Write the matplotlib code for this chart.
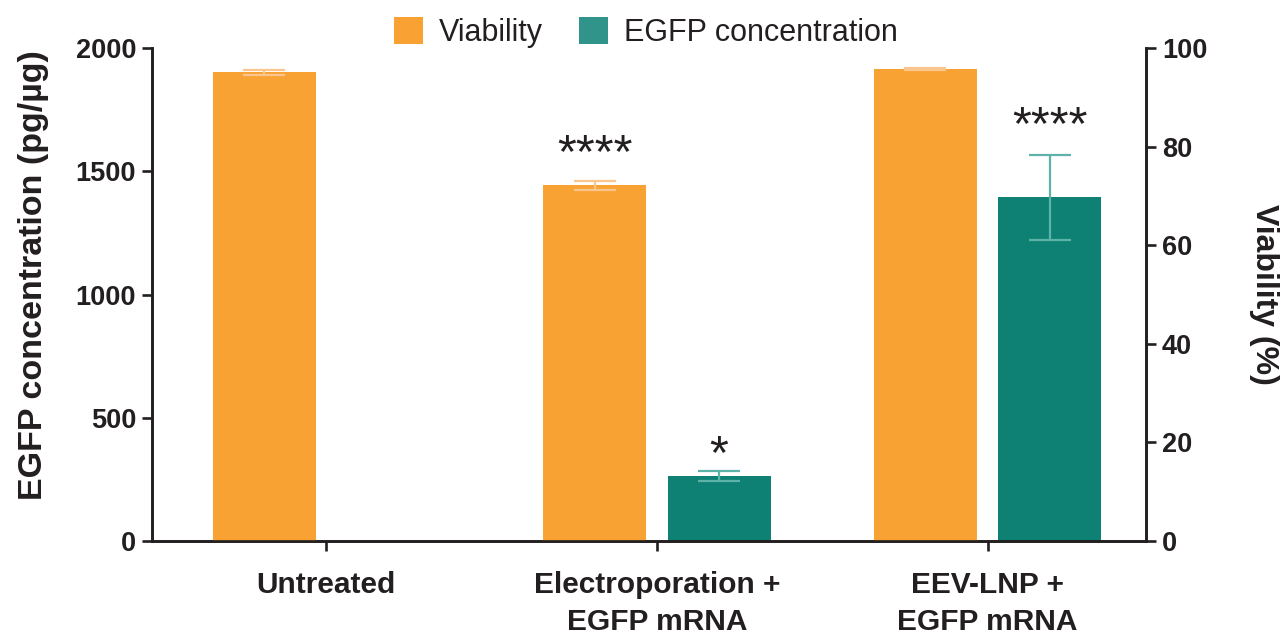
import matplotlib.pyplot as plt
import numpy as np
from matplotlib.patches import Patch

plt.rcParams['font.family'] = ['Liberation Sans', 'DejaVu Sans']

groups = ['Untreated', 'Electroporation +\nEGFP mRNA', 'EEV-LNP +\nEGFP mRNA']
viability = [95.1, 72.2, 95.7]
viability_err = [0.5, 0.9, 0.2]
egfp = [np.nan, 264, 1395]
egfp_err = [np.nan, 20, 172]
viability_stars = ['', '****', '']
egfp_stars = ['', '*', '****']

orange = '#F7A233'
orange_err = '#FBC68E'
teal = '#0E8174'
teal_err = '#5DB3A8'

x = np.arange(len(groups))
width = 0.312
offset = 0.188

fig = plt.figure(figsize=(12.84, 6.35), dpi=100)
ax = fig.add_axes([0.1184, 0.148, 0.7741, 0.7764])
ax2 = ax.twinx()

ax.bar(x + offset, egfp, width, color=teal, zorder=2)
ax.errorbar(x + offset, egfp, yerr=egfp_err, fmt='none', ecolor=teal_err,
            elinewidth=1.6, capsize=15, capthick=1.6, zorder=3)
ax2.bar(x - offset, viability, width, color=orange, zorder=2)
ax2.errorbar(x - offset, viability, yerr=viability_err, fmt='none', ecolor=orange_err,
             elinewidth=1.6, capsize=15, capthick=1.6, zorder=3)

# star labels sit just above the error bar tops
for xi, v, e, s in zip(x, egfp, egfp_err, egfp_stars):
    if s:
        dy = -5 if len(s) == 1 else 4
        ax.annotate(s, (xi + offset, v + e), xytext=(0, dy), textcoords='offset points',
                    ha='center', va='bottom', fontsize=35, color='#231F20')
for xi, v, e, s in zip(x, viability, viability_err, viability_stars):
    if s:
        ax2.annotate(s, (xi - offset, v + e), xytext=(0, 2.5), textcoords='offset points',
                     ha='center', va='bottom', fontsize=35, color='#231F20')

ax.set_xlim(-0.527, 2.479)
ax.set_ylim(0, 2000)
ax2.set_ylim(0, 100)
ax.set_yticks([0, 500, 1000, 1500, 2000])
ax2.set_yticks([0, 20, 40, 60, 80, 100])
ax.set_xticks(x)
ax.set_xticklabels(groups, fontsize=21.5, fontweight='bold', linespacing=1.4)

for a in (ax, ax2):
    a.spines['top'].set_visible(False)
    for sp in ('left', 'right', 'bottom'):
        a.spines[sp].set_linewidth(1.9)
        a.spines[sp].set_color('#231F20')
    a.tick_params(axis='both', length=7.5, width=1.9, color='#231F20',
                  labelcolor='#231F20')
    a.tick_params(axis='y', labelsize=19.5, pad=4)
    for lab in a.get_yticklabels():
        lab.set_fontweight('bold')
ax.tick_params(axis='x', pad=14)

ax.set_ylabel('EGFP concentration (pg/µg)', fontsize=24.5, fontweight='bold',
              color='#231F20')
ax.yaxis.set_label_coords(-0.104, 0.54)
ax2.set_ylabel('Viability (%)', fontsize=23, fontweight='bold', color='#231F20',
               rotation=-90, va='bottom', labelpad=30)

handles = [Patch(facecolor='#F9A233', label='Viability'),
           Patch(facecolor='#31948A', label='EGFP concentration')]
leg = ax.legend(handles=handles, loc='lower center', bbox_to_anchor=(0.497, 0.975), ncol=2,
                frameon=False, fontsize=22, handlelength=0.95, handleheight=0.95,
                handletextpad=0.5, columnspacing=1.2, borderaxespad=0)
for t in leg.get_texts():
    t.set_color('#231F20')

fig.savefig('out.png', dpi=100)
